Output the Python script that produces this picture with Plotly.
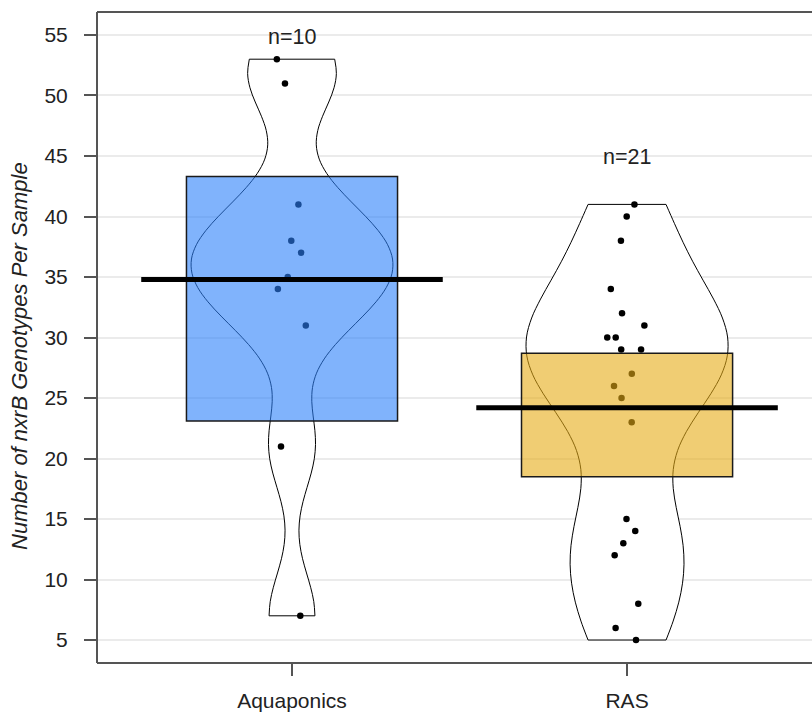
import numpy as np
import plotly.graph_objects as go

# ---- data ----
categories = ["Aquaponics", "RAS"]
aquaponics = [53, 51, 41, 38, 37, 35, 34, 31, 21, 7]
ras = [41, 40, 38, 34, 32, 31, 30, 30, 29, 29, 27, 26, 25, 23,
       15, 14, 13, 12, 8, 6, 5]
inf_lower = [23.1, 18.5]   # lower bound of the inference band (HDI)
inf_upper = [43.3, 28.7]   # upper bound of the inference band (HDI)
y_ticks = [5, 10, 15, 20, 25, 30, 35, 40, 45, 50, 55]

groups = [aquaponics, ras]

# ---- styles ----
FONT = "Liberation Sans, Arial, sans-serif"
TXT = "#222222"
box_fill = ["rgba(43,128,250,0.6)", "rgba(230,172,22,0.6)"]
axis_col = "#555555"
n_label_y = [54.8, 44.9]
bw_adjust = [1.0, 0.87]


def nrd0(v):
    v = np.asarray(v, float)
    q75, q25 = np.percentile(v, [75, 25])
    lo = min(np.std(v, ddof=1), (q75 - q25) / 1.34)
    return 0.9 * lo * len(v) ** -0.2


fig = go.Figure()

for i, (cat, vals) in enumerate(zip(categories, groups)):
    fig.add_trace(go.Violin(
        x=[i] * len(vals), y=vals, name=cat,
        spanmode="hard", bandwidth=float(nrd0(vals) * bw_adjust[i]),
        width=0.6, scalemode="width",
        fillcolor="white", line=dict(color="black", width=1),
        points="all", pointpos=0, jitter=0.22,
        marker=dict(color="black", size=6.5, line=dict(width=0)),
        box_visible=False, meanline_visible=False,
        showlegend=False, hoverinfo="y", zorder=0,
    ))

fig.add_trace(go.Bar(
    x=list(range(len(categories))),
    y=[u - l for u, l in zip(inf_upper, inf_lower)],
    base=inf_lower, width=0.63,
    marker=dict(color=box_fill, line=dict(color="#1a1a1a", width=1.5)),
    showlegend=False, zorder=1,
))

for i, vals in enumerate(groups):
    m = float(np.mean(vals))
    fig.add_trace(go.Scatter(
        x=[i - 0.45, i + 0.45], y=[m, m], mode="lines",
        line=dict(color="black", width=5), showlegend=False,
        hoverinfo="skip", zorder=2,
    ))

for i, vals in enumerate(groups):
    fig.add_annotation(
        x=i, y=n_label_y[i], text=f"n={len(vals)}", showarrow=False,
        font=dict(family=FONT, size=21.5, color=TXT),
        xanchor="center", yanchor="middle",
    )

# y-axis title (as rotated annotation for exact placement)
fig.add_annotation(
    xref="paper", yref="paper", x=-0.1077, y=0.4716,
    text="<i>Number of nxrB Genotypes Per Sample</i>", textangle=-90,
    showarrow=False, xanchor="center", yanchor="middle",
    font=dict(family=FONT, size=22, color=TXT),
)

# frame: left, bottom and top lines
for x0, y0, x1, y1 in [(0, 0, 0, 1), (0, 0, 1, 0), (0, 1, 1, 1)]:
    fig.add_shape(type="line", xref="paper", yref="paper",
                  x0=x0, y0=y0, x1=x1, y1=y1,
                  line=dict(color=axis_col, width=2), layer="above")

fig.update_layout(
    width=812, height=715,
    margin=dict(l=97, r=0, t=12, b=52),
    plot_bgcolor="white", paper_bgcolor="white",
    violinmode="overlay", barmode="overlay",
    font=dict(family=FONT, size=21, color=TXT),
    showlegend=False,
)

fig.update_xaxes(
    range=[-0.582, 1.552],
    tickmode="array", tickvals=list(range(len(categories))), ticktext=categories,
    showgrid=False, zeroline=False, showline=False,
    ticks="outside", ticklen=12, tickwidth=1.5, tickcolor=axis_col,
    ticklabelstandoff=7,
    tickfont=dict(family=FONT, size=21, color=TXT),
)

fig.update_yaxes(
    range=[3.1, 56.9],
    tickmode="array", tickvals=y_ticks,
    showgrid=True, gridcolor="#ebebeb", gridwidth=1.5, zeroline=False,
    showline=False,
    ticks="outside", ticklen=12, tickwidth=1.5, tickcolor=axis_col,
    ticklabelstandoff=12,
    tickfont=dict(family=FONT, size=21, color=TXT),
)

fig.write_html(
    "out.html",
    config={"displayModeBar": False},
    post_script="document.body.style.margin='0';document.body.style.overflow='hidden';",
)
